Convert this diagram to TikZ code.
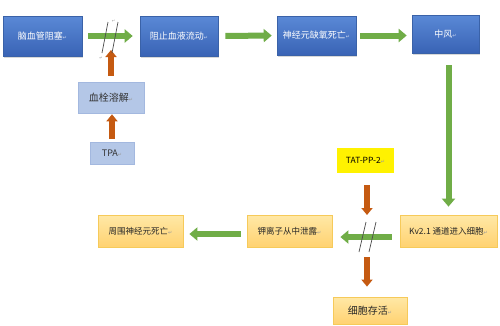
\documentclass[tikz,border=0pt]{standalone}
\usepackage{fontspec}
\setmainfont{Noto Sans CJK SC}
\newfontfamily\dejavu{DejaVu Sans}
\usetikzlibrary{arrows.meta,shadows,calc}
\definecolor{bluetop}{HTML}{5A89D6}
\definecolor{bluebot}{HTML}{3963B5}
\definecolor{blueedge}{HTML}{3A62A8}
\definecolor{lblue}{HTML}{B4C7E7}
\definecolor{lblueedge}{HTML}{A3B8DF}
\definecolor{ytop}{HTML}{FFE8A6}
\definecolor{ybot}{HTML}{FFD271}
\definecolor{yedge}{HTML}{F6CA5A}
\definecolor{agreen}{HTML}{70AD47}
\definecolor{aorange}{HTML}{C55A11}
\definecolor{markgray}{HTML}{9A9A9A}
\definecolor{marklight}{HTML}{C9D6EE}
\newcommand{\retmark}[1][markgray]{{\dejavu\fontsize{5}{5}\selectfont\textcolor{#1}{↵}}}
\begin{document}
\begin{tikzpicture}[x=1pt,y=-1pt,
  bluebox/.style={draw=blueedge, line width=0.6pt, top color=bluetop, bottom color=bluebot,
    text=white, font=\fontsize{9}{11}\selectfont, inner sep=0pt,
    drop shadow={shadow xshift=1.2pt, shadow yshift=-2pt, opacity=0.3}},
  lbbox/.style={draw=lblueedge, line width=0.6pt, fill=lblue, text=black!80,
    font=\fontsize{9}{11}\selectfont, inner sep=0pt},
  ybox/.style={draw=yedge, line width=0.8pt, top color=ytop, bottom color=ybot, text=black!85,
    font=\fontsize{8.5}{10}\selectfont, inner sep=0pt},
  hibox/.style={fill=yellow, draw=none, text=black, font=\fontsize{8.5}{10}\selectfont, inner sep=0pt},
  garrow/.style={draw=agreen, line width=6pt, -{Triangle[length=8pt,width=13pt]}},
  oarrow/.style={draw=aorange, line width=6.5pt, -{Triangle[length=7pt,width=11pt]}},
  slashline/.style={draw=black!70, line width=0.7pt},
  tinymark/.style={inner sep=0pt, font=\dejavu\fontsize{4}{4}\selectfont, text=markgray}
]
\useasboundingbox[fill=white] (0,0) rectangle (500,325);

% top row
\node[bluebox, minimum width=79pt, minimum height=40pt] (b1) at (42.5,36) {脑血管阻塞\retmark[marklight]};
\node[bluebox, minimum width=78pt, minimum height=40pt] (b2) at (179,36) {阻止血液流动\retmark[marklight]};
\node[bluebox, minimum width=79pt, minimum height=39pt] (b3) at (316.5,35.5) {神经元缺氧死亡\retmark[marklight]};
\node[bluebox, minimum width=67pt, minimum height=38pt] (b4) at (445.5,34) {中风\retmark[marklight]};

% left column
\node[lbbox, minimum width=66pt, minimum height=31pt, font=\fontsize{10}{12}\selectfont] (lb) at (111,97.5) {血栓溶解\retmark};
\node[lbbox, minimum width=44pt, minimum height=22pt] (tpa) at (112,153) {TPA\retmark};

% lower row
\node[ybox, minimum width=97pt, minimum height=32pt] (kv) at (448.5,231) {Kv2.1 通道进入细胞\retmark};
\node[ybox, minimum width=85pt, minimum height=32pt] (k) at (289.5,231) {钾离子从中泄露\retmark};
\node[ybox, minimum width=85pt, minimum height=32pt] (z) at (140.5,231) {周围神经元死亡\retmark};
\node[ybox, minimum width=74pt, minimum height=27pt, font=\fontsize{10}{12}\selectfont] (cs) at (370,310.5) {细胞存活\retmark};
\node[hibox, minimum width=57pt, minimum height=25pt] (tat) at (365.5,160.5) {TAT-PP-2\retmark};

% green arrows
\draw[garrow, shorten <=6pt, shorten >=7pt] (b1.east) -- (b2.west);
\draw[garrow, shorten <=7pt, shorten >=5pt] (b2.east) -- (b3.west);
\draw[garrow, shorten <=4pt, shorten >=5pt] (b3.east) -- (b3.east -| b4.west);
\draw[garrow, shorten <=12pt, shorten >=8pt] (kv.north |- b4.south) -- (kv.north);
\draw[garrow, shorten <=8pt, shorten >=8pt] ([yshift=-6pt]kv.west) -- ([yshift=-6pt]k.east);
\draw[garrow, shorten <=6pt, shorten >=6pt] ([yshift=-3pt]k.west) -- ([yshift=-3pt]z.east);

% orange arrows
\coordinate (t1) at (111,50);
\draw[oarrow, shorten <=6pt] (lb.north) -- (t1);
\draw[oarrow, shorten <=3pt, shorten >=1pt] (tpa.north) -- (tpa.north |- lb.south);
\coordinate (t2) at (367,215);
\coordinate (s3) at (367,257);
\draw[oarrow, shorten <=12pt] (tat.south -| t2) -- (t2);
\draw[oarrow, shorten >=10pt] (s3) -- (s3 |- cs.north);

% slashes
\draw[slashline] (108,22) -- (102,53);
\draw[slashline] (118,22) -- (112,53);
\draw[slashline] (366,222) -- (359,252);
\draw[slashline] (376,222) -- (369,252);
\node[tinymark] (m1) at (113.5,21.5) {↵};
\node[tinymark] (m2) at (101,58.5) {↵};
\end{tikzpicture}
\end{document}
